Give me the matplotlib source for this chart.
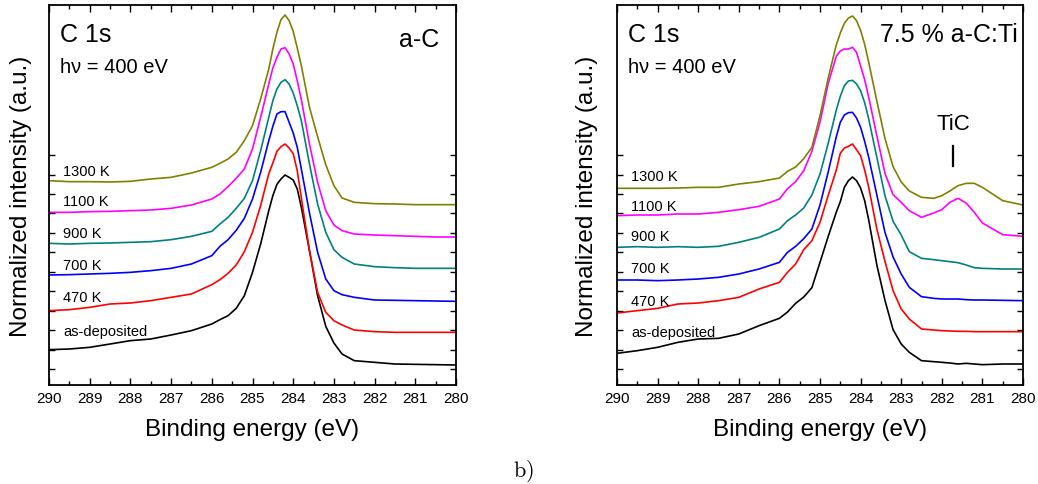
import matplotlib
matplotlib.use("Agg")
import matplotlib.pyplot as plt
from matplotlib.ticker import MultipleLocator, FixedLocator

plt.rcParams["font.family"] = ["Liberation Sans", "DejaVu Sans"]
plt.rcParams["mathtext.fontset"] = "cm"

# ---- Binding-energy grids (eV) -------------------------------------------
energy_ac = [290, 289.5, 289, 288.5, 288, 287.5, 287, 286.5, 286, 285.8, 285.6,
             285.4, 285.2, 285.0, 284.8, 284.6, 284.5, 284.4, 284.3, 284.2, 284.1,
             284.0, 283.9, 283.8, 283.6, 283.4, 283.2, 283.0, 282.8, 282.5, 282.0,
             281.5, 281.0, 280.5, 280.0]

energy_acti = [290, 289.5, 289, 288.5, 288, 287.5, 287, 286.5, 286, 285.8, 285.6,
               285.4, 285.2, 285.0, 284.8, 284.6, 284.5, 284.4, 284.3, 284.2, 284.1,
               284.0, 283.9, 283.8, 283.6, 283.4, 283.2, 283.0, 282.8, 282.5, 282.2,
               282.0, 281.8, 281.6, 281.4, 281.2, 281.0, 280.5, 280.0]

# ---- a-C : stacked C 1s spectra (a.u.) -----------------------------------
ac_asdep = [0.58, 0.60, 0.65, 0.75, 0.85, 0.90, 1.02, 1.15, 1.35, 1.48, 1.60, 1.82,
            2.20, 2.90, 3.75, 4.75, 5.20, 5.54, 5.70, 5.82, 5.75, 5.67, 5.40, 4.85,
            3.55, 2.20, 1.28, 0.78, 0.45, 0.25, 0.20, 0.15, 0.14, 0.13, 0.12]
ac_470 = [1.75, 1.78, 1.85, 1.95, 1.98, 2.05, 2.15, 2.25, 2.53, 2.68, 2.87, 3.12,
          3.52, 4.10, 4.90, 5.86, 6.18, 6.53, 6.67, 6.75, 6.63, 6.46, 5.95, 5.13,
          3.55, 2.30, 1.70, 1.45, 1.32, 1.17, 1.12, 1.10, 1.10, 1.10, 1.10]
ac_700 = [2.82, 2.83, 2.85, 2.87, 2.90, 2.95, 3.02, 3.15, 3.40, 3.68, 3.88, 4.16,
          4.52, 5.10, 5.90, 6.85, 7.28, 7.65, 7.72, 7.72, 7.40, 7.08, 6.65, 6.00,
          4.68, 3.50, 2.70, 2.35, 2.23, 2.15, 2.07, 2.06, 2.05, 2.04, 2.03]
ac_900 = [3.77, 3.75, 3.77, 3.78, 3.80, 3.82, 3.88, 3.98, 4.13, 4.35, 4.55, 4.82,
          5.12, 5.65, 6.55, 7.55, 8.05, 8.40, 8.60, 8.68, 8.55, 8.28, 7.90, 7.45,
          6.15, 4.95, 4.10, 3.58, 3.35, 3.15, 3.07, 3.04, 3.02, 3.02, 3.02]
ac_1100 = [4.70, 4.70, 4.72, 4.73, 4.75, 4.77, 4.82, 4.92, 5.10, 5.25, 5.47, 5.72,
           6.00, 6.60, 7.55, 8.55, 9.03, 9.35, 9.60, 9.64, 9.45, 9.15, 8.65, 8.08,
           6.75, 5.60, 4.75, 4.32, 4.15, 4.05, 4.02, 4.00, 3.98, 3.96, 3.96]
ac_1300 = [5.65, 5.62, 5.62, 5.61, 5.63, 5.70, 5.75, 5.88, 6.05, 6.17, 6.30, 6.50,
           6.85, 7.30, 8.10, 9.00, 9.60, 10.10, 10.48, 10.62, 10.45, 10.13, 9.63,
           9.10, 7.85, 6.97, 6.13, 5.50, 5.13, 5.00, 4.96, 4.95, 4.93, 4.93, 4.93]

# ---- 7.5 % a-C:Ti : stacked C 1s spectra (a.u.) --------------------------
acti_asdep = [0.47, 0.55, 0.65, 0.80, 0.90, 0.92, 1.05, 1.30, 1.52, 1.71, 1.97, 2.16,
              2.44, 3.20, 3.97, 4.70, 5.02, 5.45, 5.65, 5.76, 5.65, 5.43, 5.05, 4.47,
              3.12, 2.06, 1.18, 0.75, 0.50, 0.25, 0.22, 0.20, 0.18, 0.15, 0.17, 0.15,
              0.13, 0.15, 0.15]
acti_470 = [1.68, 1.75, 1.82, 1.95, 1.98, 2.05, 2.15, 2.40, 2.60, 2.90, 3.15, 3.58,
            3.85, 4.40, 5.20, 5.96, 6.47, 6.63, 6.68, 6.75, 6.58, 6.40, 5.97, 5.45,
            4.20, 3.23, 2.35, 1.80, 1.50, 1.20, 1.17, 1.15, 1.14, 1.13, 1.13, 1.12,
            1.12, 1.12, 1.12]
acti_700 = [2.67, 2.67, 2.65, 2.67, 2.70, 2.75, 2.85, 3.00, 3.20, 3.50, 3.68, 3.91,
            4.20, 4.92, 5.90, 6.96, 7.40, 7.62, 7.69, 7.70, 7.53, 7.25, 6.83, 6.35,
            5.22, 4.10, 3.36, 2.85, 2.45, 2.17, 2.12, 2.10, 2.10, 2.10, 2.08, 2.07,
            2.07, 2.06, 2.05]
acti_900 = [3.65, 3.67, 3.65, 3.67, 3.65, 3.68, 3.80, 3.95, 4.20, 4.45, 4.62, 4.83,
            5.22, 5.85, 6.76, 7.76, 8.18, 8.50, 8.64, 8.66, 8.55, 8.35, 7.99, 7.50,
            6.35, 5.20, 4.43, 4.02, 3.52, 3.32, 3.28, 3.25, 3.22, 3.19, 3.12, 3.04,
            3.02, 3.00, 3.00]
acti_1100 = [4.60, 4.62, 4.62, 4.65, 4.65, 4.70, 4.78, 4.88, 5.10, 5.41, 5.62, 5.95,
             6.53, 7.40, 8.55, 9.38, 9.54, 9.60, 9.60, 9.65, 9.50, 9.09, 8.68, 8.15,
             7.00, 5.87, 5.23, 5.00, 4.75, 4.55, 4.68, 4.78, 5.00, 5.12, 4.98, 4.70,
             4.38, 4.03, 3.98]
acti_1300 = [5.42, 5.42, 5.42, 5.43, 5.45, 5.45, 5.55, 5.62, 5.73, 5.93, 6.06, 6.31,
             6.65, 7.60, 8.72, 9.72, 10.08, 10.37, 10.53, 10.59, 10.45, 10.16, 9.74,
             9.20, 8.04, 6.92, 6.07, 5.61, 5.34, 5.15, 5.12, 5.20, 5.34, 5.50, 5.57,
             5.57, 5.45, 5.05, 4.92]

temperature_labels = ["as-deposited", "470 K", "700 K", "900 K", "1100 K", "1300 K"]
series_colors = ["#000000", "#ff0000", "#0000ff", "#008080", "#ff00ff", "#808000"]

# label anchors (eV, a.u.) for the temperature tags
ac_label_y = [1.15, 2.17, 3.12, 4.07, 5.05, 5.95]
acti_label_y = [1.12, 2.05, 3.02, 3.98, 4.90, 5.78]
label_x = 289.65

tic_energy = 281.72

W, H = 1038, 485
fig = plt.figure(figsize=(W / 100, H / 100), dpi=100)

tick_step = 0.5835
y_lo, y_hi = -0.48, 10.92


def style_axes(ax):
    ax.set_xlim(290, 280)
    ax.set_ylim(y_lo, y_hi)
    ax.xaxis.set_major_locator(MultipleLocator(1))
    ax.xaxis.set_minor_locator(MultipleLocator(0.5))
    ax.yaxis.set_major_locator(FixedLocator([tick_step * k for k in range(12)]))
    ax.tick_params(axis="both", which="both", direction="in", top=True, right=True,
                   width=1.0)
    ax.tick_params(axis="x", which="major", length=5, labelsize=11, pad=4)
    ax.tick_params(axis="x", which="minor", length=3)
    ax.tick_params(axis="y", which="major", length=4, labelleft=False)
    for s in ax.spines.values():
        s.set_linewidth(1.3)
    ax.set_xlabel("Binding energy (eV)", fontsize=17.5)
    ax.set_ylabel("Normalized intensity (a.u.)", fontsize=17.5)
    ax.xaxis.label.set_va("center")
    ax.yaxis.label.set_va("center")
    ax.xaxis.set_label_coords(0.5, -0.116)


def draw_panel(ax, energy, spectra, label_y):
    for ys, c in zip(spectra, series_colors):
        ax.plot(energy, ys, color=c, lw=1.2)
    for txt, ly in zip(temperature_labels, label_y):
        ax.text(label_x, ly, txt, fontsize=10.5, ha="left", va="center")
    ax.text(0.027, 0.924, "C 1s", transform=ax.transAxes, fontsize=18,
            ha="left", va="center")
    ax.text(0.027, 0.837, "h\u03bd = 400 eV", transform=ax.transAxes, fontsize=14.5,
            ha="left", va="center")


ax1 = fig.add_axes([49 / W, 1 - 386 / H, 407 / W, 380 / H])
style_axes(ax1)
draw_panel(ax1, energy_ac, [ac_asdep, ac_470, ac_700, ac_900, ac_1100, ac_1300],
           ac_label_y)
ax1.text(0.958, 0.911, "a-C", transform=ax1.transAxes, fontsize=18,
         ha="right", va="center")
ax1.yaxis.set_label_coords(-0.069, 0.5)

ax2 = fig.add_axes([617 / W, 1 - 386 / H, 406 / W, 380 / H])
style_axes(ax2)
draw_panel(ax2, energy_acti,
           [acti_asdep, acti_470, acti_700, acti_900, acti_1100, acti_1300],
           acti_label_y)
ax2.text(0.988, 0.924, "7.5 % a-C:Ti", transform=ax2.transAxes, fontsize=18,
         ha="right", va="center")
ax2.yaxis.set_label_coords(-0.074, 0.5)
ax2.text(tic_energy, 7.35, "TiC", fontsize=16, ha="center", va="center")
ax2.plot([tic_energy, tic_energy], [6.09, 6.69], color="black", lw=1.6)

fig.text(523 / W, 8 / H, r"$\mathrm{b)}$", fontsize=16, ha="center",
         va="baseline")

fig.savefig("out.png", dpi=100)
